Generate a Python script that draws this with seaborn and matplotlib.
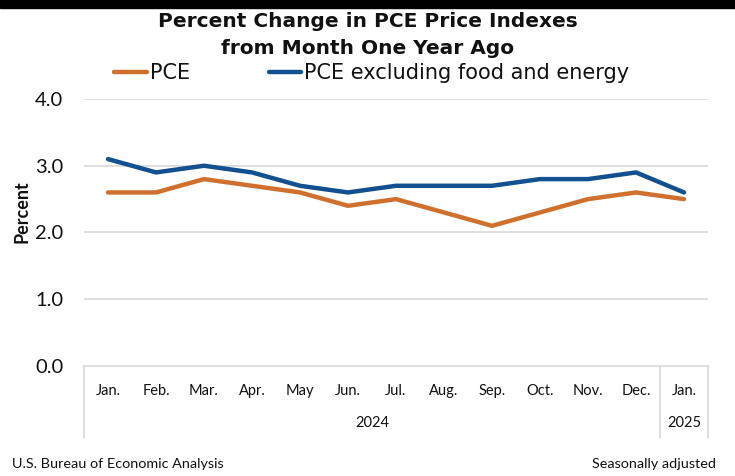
import pandas as pd
import matplotlib
matplotlib.use("Agg")
import matplotlib.pyplot as plt
import seaborn as sns
from matplotlib.lines import Line2D
from matplotlib.patches import Rectangle
import matplotlib.transforms as mtransforms

# ---------- DATA ----------
MONTHS = ["Jan.", "Feb.", "Mar.", "Apr.", "May", "Jun.", "Jul.", "Aug.",
          "Sep.", "Oct.", "Nov.", "Dec.", "Jan."]
PCE = [2.6, 2.6, 2.8, 2.7, 2.6, 2.4, 2.5, 2.3, 2.1, 2.3, 2.5, 2.6, 2.5]
CORE = [3.1, 2.9, 3.0, 2.9, 2.7, 2.6, 2.7, 2.7, 2.7, 2.8, 2.8, 2.9, 2.6]
SERIES = ["PCE", "PCE excluding food and energy"]
YTICKS = [0.0, 1.0, 2.0, 3.0, 4.0]

ORANGE = "#D0702E"
BLUE = "#12508F"
GRID = "#D9D9D9"
WIDE = ["DejaVu Sans"]

df = pd.DataFrame({
    "idx": list(range(len(MONTHS))) * 2,
    "value": PCE + CORE,
    "series": [SERIES[0]] * len(PCE) + [SERIES[1]] * len(CORE),
})

sns.set_theme(style="white")
plt.rcParams["font.family"] = ["Lato", "DejaVu Sans"]
for key in ["text.color", "axes.labelcolor", "xtick.color", "ytick.color"]:
    plt.rcParams[key] = "#111111"

fig = plt.figure(figsize=(7.35, 4.76), dpi=100)
ax = fig.add_axes([84 / 735, 110 / 476, 624 / 735, 267 / 476])

sns.lineplot(data=df, x="idx", y="value", hue="series", palette=[ORANGE, BLUE],
             linewidth=3.2, ax=ax, legend=False)

ax.set_xlim(-0.5, len(MONTHS) - 0.5)
ax.set_ylim(0, 4)
ax.set_yticks(YTICKS)
ax.set_yticklabels([f"{v:.1f}" for v in YTICKS], fontsize=14.5)
ax.set_xticks(range(len(MONTHS)))
ax.set_xticklabels(MONTHS, fontsize=10.5)
ax.tick_params(axis="x", length=0, pad=13)
ax.tick_params(axis="y", length=0, pad=15)
ax.set_xlabel("")
ax.set_ylabel("Percent", fontsize=13, fontweight="bold")
ax.yaxis.set_label_coords(-0.085, 0.58)

for v in YTICKS[1:]:
    ax.axhline(v, color=GRID, lw=1.2, zorder=0)
for s in ["left", "right", "top"]:
    ax.spines[s].set_visible(False)
ax.spines["bottom"].set_color(GRID)
ax.spines["bottom"].set_linewidth(1.2)

# category box under the axis
trans = mtransforms.blended_transform_factory(ax.transData, ax.transAxes)
for xv in [-0.5, 11.5, 12.5]:
    ax.add_line(Line2D([xv, xv], [0, -0.27], transform=trans, color=GRID,
                       lw=1.2, clip_on=False))
ax.text(5.5, -0.215, "2024", transform=trans, ha="center", va="center", fontsize=10.5)
ax.text(12, -0.215, "2025", transform=trans, ha="center", va="center", fontsize=10.5)

fig.text(0.5, 0.954, "Percent Change in PCE Price Indexes", ha="center", va="center",
         fontsize=14.5, fontweight="bold", family=WIDE)
fig.text(0.5, 0.899, "from Month One Year Ago", ha="center", va="center",
         fontsize=14.5, fontweight="bold", family=WIDE)

handles = [Line2D([], [], color=ORANGE, lw=3.2), Line2D([], [], color=BLUE, lw=3.2)]
fig.legend(handles, SERIES, loc="center", bbox_to_anchor=(0.506, 0.847), ncol=2,
           frameon=False, prop={"family": WIDE, "size": 15}, handlelength=1.55,
           handletextpad=0.15, columnspacing=3.8)

fig.text(12 / 735, 0.025, "U.S. Bureau of Economic Analysis", ha="left", va="center",
         fontsize=10.4)
fig.text(716 / 735, 0.025, "Seasonally adjusted", ha="right", va="center", fontsize=10.4)

# dark screenshot edge at top
fig.patches.append(Rectangle((0, 1 - 8 / 476), 1, 8 / 476, transform=fig.transFigure,
                             color="black", zorder=10))

fig.savefig("out.png", dpi=100)
